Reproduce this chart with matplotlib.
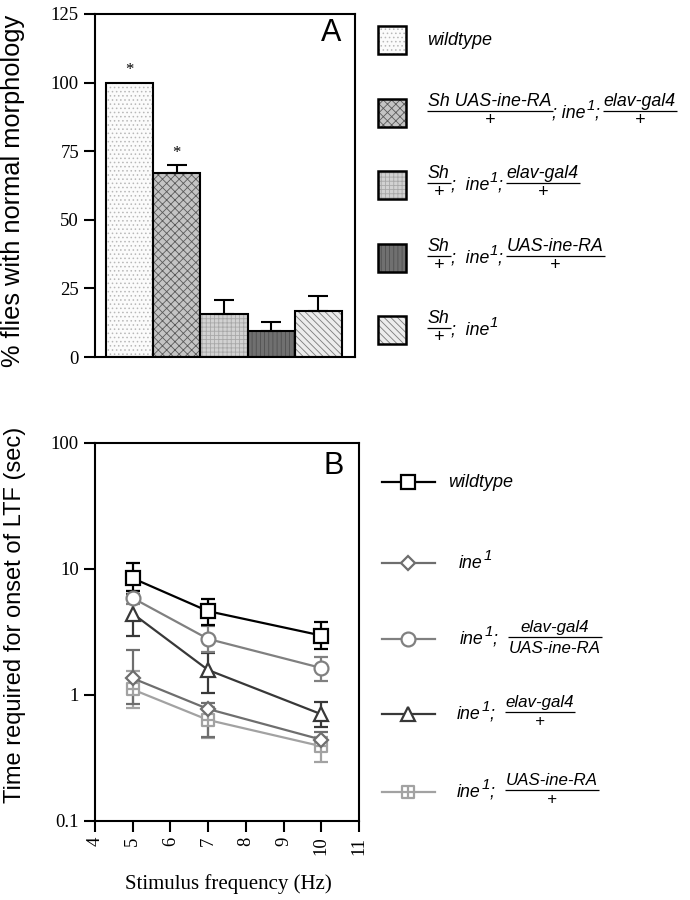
import matplotlib
matplotlib.use('Agg')
import matplotlib.pyplot as plt
import numpy as np
from matplotlib.path import Path
from matplotlib.patches import Rectangle

SANS = 'Liberation Sans'
SERIF = 'Liberation Serif'
plt.rcParams['hatch.linewidth'] = 0.6

# ---------------- Panel A data ----------------
genotypes_a = ['wildtype', 'Sh UAS-ine-RA/+; ine1; elav-gal4/+',
               'Sh/+; ine1; elav-gal4/+', 'Sh/+; ine1; UAS-ine-RA/+', 'Sh/+; ine1']
pct_normal = [100, 67.2, 15.8, 9.4, 16.6]
pct_sem = [0, 2.6, 4.9, 3.2, 5.8]
significant = [True, True, False, False, False]
yticks_a = [0, 25, 50, 75, 100, 125]

# bar textures (face, hatch, hatch colour)
bar_face = ['#fbfbfb', '#c4c4c4', '#d2d2d2', '#707070', '#ececec']
bar_hatch = ['....', 'xxxx', '++++', '||||', '\\\\\\\\\\']
bar_hcol = ['#b8b8b8', '#5a5a5a', '#a8a8a8', '#505050', '#7a7a7a']

# ---------------- Panel B data ----------------
freq_hz = [5, 7, 10]
series_names = ['wildtype', 'ine1', 'ine1; elav-gal4/UAS-ine-RA',
                'ine1; elav-gal4/+', 'ine1; UAS-ine-RA/+']
wt_mean = [8.4, 4.6, 2.95]
wt_lo = [6.6, 3.6, 2.3]
wt_hi = [11.1, 5.8, 3.8]
ine_mean = [1.35, 0.77, 0.44]
ine_lo = [0.85, 0.46, 0.37]
ine_hi = [2.25, 0.86, 0.51]
resc_mean = [5.85, 2.77, 1.63]
resc_lo = [5.2, 2.2, 1.28]
resc_hi = [6.6, 3.5, 2.0]
gal4_mean = [4.4, 1.57, 0.70]
gal4_lo = [2.95, 1.04, 0.55]
gal4_hi = [6.3, 2.15, 0.88]
uas_mean = [1.1, 0.63, 0.39]
uas_lo = [0.79, 0.45, 0.29]
uas_hi = [1.55, 0.80, 0.46]
xticks_b = [4, 5, 6, 7, 8, 9, 10, 11]
yticks_b = [0.1, 1, 10, 100]
ytick_labels_b = ['0.1', '1', '10', '100']

sq_plus = Path([(-1, -1), (1, -1), (1, 1), (-1, 1), (-1, -1), (0, -1), (0, 1), (-1, 0), (1, 0)],
               [Path.MOVETO, Path.LINETO, Path.LINETO, Path.LINETO, Path.CLOSEPOLY,
                Path.MOVETO, Path.LINETO, Path.MOVETO, Path.LINETO])
series_style = [
    dict(color='#000000', marker='s', ms=10),
    dict(color='#6e6e6e', marker='D', ms=7.5),
    dict(color='#808080', marker='o', ms=10),
    dict(color='#383838', marker='^', ms=10),
    dict(color='#a2a2a2', marker=sq_plus, ms=9),
]
series_data = [(wt_mean, wt_lo, wt_hi), (ine_mean, ine_lo, ine_hi),
               (resc_mean, resc_lo, resc_hi), (gal4_mean, gal4_lo, gal4_hi),
               (uas_mean, uas_lo, uas_hi)]

W, H = 690, 900
fig = plt.figure(figsize=(W / 100, H / 100), dpi=100)


def px_axes(l, t, r, b):
    return fig.add_axes([l / W, 1 - b / H, (r - l) / W, (b - t) / H])


def style_axes(ax):
    for s in ax.spines.values():
        s.set_linewidth(1.5)
    ax.tick_params(direction='out', length=8, width=1.5, labelsize=13.5,
                   right=False, top=False)
    for lab in ax.get_xticklabels() + ax.get_yticklabels():
        lab.set_fontfamily(SERIF)


# ---------------- Panel A ----------------
axA = px_axes(95, 14, 355, 357)
pos = np.arange(len(pct_normal))
for i in pos:
    axA.bar(i, pct_normal[i], width=1.0, color=bar_face[i], hatch=bar_hatch[i],
            edgecolor=bar_hcol[i], linewidth=0)
axA.bar(pos, pct_normal, width=1.0, fill=False, edgecolor='black', linewidth=1.5)
err_idx = [i for i in pos if pct_sem[i] > 0]
axA.errorbar([pos[i] for i in err_idx], [pct_normal[i] for i in err_idx],
             yerr=[[0] * len(err_idx), [pct_sem[i] for i in err_idx]],
             fmt='none', ecolor='black', elinewidth=1.5, capsize=7, capthick=1.5)
for i in pos:
    if significant[i]:
        axA.text(i, pct_normal[i] + pct_sem[i] + 1.5, '*', ha='center', va='bottom',
                 fontsize=12, family=SERIF)
axA.set_xlim(-0.733, 4.775)
axA.set_ylim(0, 125)
axA.set_yticks(yticks_a)
axA.set_xticks([])
style_axes(axA)

# ---------------- Panel B ----------------
axB = px_axes(95, 442.7, 359, 820.7)
axB.set_yscale('log')
for (m, lo, hi), st in zip(series_data[::-1], series_style[::-1]):
    m = np.array(m); lo = np.array(lo); hi = np.array(hi)
    axB.errorbar(freq_hz, m, yerr=[m - lo, hi - m], color=st['color'],
                 marker=st['marker'], ms=st['ms'], mfc='white', mec=st['color'],
                 mew=1.6, lw=1.6, elinewidth=1.6, capsize=5, capthick=1.6)
axB.set_xlim(4, 11)
axB.set_ylim(0.1, 100)
axB.set_xticks(xticks_b)
axB.set_xticklabels([str(v) for v in xticks_b], rotation=90)
axB.set_yticks(yticks_b)
axB.set_yticklabels(ytick_labels_b)
axB.yaxis.set_minor_locator(matplotlib.ticker.NullLocator())
style_axes(axB)

# ---------------- Overlay for labels / legends ----------------
ov = fig.add_axes([0, 0, 1, 1])
ov.set_xlim(0, W)
ov.set_ylim(H, 0)
ov.axis('off')
ov.set_autoscale_on(False)

fig.text(13 / W, 1 - 191 / H, '% flies with normal morphology', rotation=90,
         ha='center', va='center', family=SANS, fontsize=18.3)
fig.text(15 / W, 1 - 615 / H, 'Time required for onset of LTF (sec)', rotation=90,
         ha='center', va='center', family=SANS, fontsize=17)
fig.text(228 / W, 1 - 884 / H, 'Stimulus frequency (Hz)', ha='center', va='center',
         family=SERIF, fontsize=15)
ov.text(331, 33, 'A', ha='center', va='center', family=SANS, fontsize=22)
ov.text(334, 466, 'B', ha='center', va='center', family=SANS, fontsize=22)

renderer = fig.canvas.get_renderer()


def txt(x, y, s, size, **kw):
    return ov.text(x, y, s, fontsize=size, family=SANS, style='italic', **kw)


def draw_expr(x, y, parts, size, fsize):
    em = size * 100 / 72.0
    fem = fsize * 100 / 72.0
    base = y + 0.27 * em
    for p in parts:
        kind = p[0]
        if kind == 'gap':
            x += p[1]
        elif kind == 't':
            t = txt(x, base, p[1], size, ha='left', va='baseline')
            x += t.get_window_extent(renderer).width
        elif kind == 'sup':
            t = txt(x + 0.5, base - 0.42 * em, p[1], size * 0.85, ha='left', va='baseline')
            x += t.get_window_extent(renderer).width + 0.5
        elif kind == 'frac':
            bar = y - 0.1 * em
            n = txt(0, bar - 0.3 * fem, p[1], fsize, ha='center', va='baseline')
            dy = 0.8 if p[2] == '+' else 0.95
            d = txt(0, bar + dy * fem, p[2], fsize, ha='center', va='baseline')
            w = max(n.get_window_extent(renderer).width, d.get_window_extent(renderer).width) + 2
            n.set_x(x + w / 2)
            d.set_x(x + w / 2)
            ov.plot([x, x + w], [bar, bar], color='black', lw=0.9, solid_capstyle='butt')
            x += w
    return x


# Legend A
legA_y = [40, 113, 185, 258, 330]
legA_parts = [
    [('t', 'wildtype')],
    [('frac', 'Sh UAS-ine-RA', '+'), ('t', '; ine'), ('sup', '1'), ('t', ';'), ('gap', 3),
     ('frac', 'elav-gal4', '+')],
    [('frac', 'Sh', '+'), ('t', ';  ine'), ('sup', '1'), ('t', ';'), ('gap', 3),
     ('frac', 'elav-gal4', '+')],
    [('frac', 'Sh', '+'), ('t', ';  ine'), ('sup', '1'), ('t', ';'), ('gap', 3),
     ('frac', 'UAS-ine-RA', '+')],
    [('frac', 'Sh', '+'), ('t', ';  ine'), ('sup', '1')],
]
for i, (yy, parts) in enumerate(zip(legA_y, legA_parts)):
    ov.add_patch(Rectangle((378, yy - 14), 28, 28, facecolor=bar_face[i], hatch=bar_hatch[i],
                           edgecolor=bar_hcol[i], linewidth=0))
    ov.add_patch(Rectangle((378, yy - 14), 28, 28, fill=False, edgecolor='black', linewidth=1.8))
    if i == 0:
        draw_expr(427, yy, parts, 13, 13)
    else:
        draw_expr(427, yy, parts, 12.8, 12.8)

# Legend B
legB_y = [482, 563, 639, 714, 792]
legB_x = [448, 459, 460, 457, 457]
legB_parts = [
    [('t', 'wildtype')],
    [('t', 'ine'), ('sup', '1')],
    [('t', 'ine'), ('sup', '1'), ('t', ';'), ('gap', 10), ('frac', 'elav-gal4', 'UAS-ine-RA')],
    [('t', 'ine'), ('sup', '1'), ('t', ';'), ('gap', 10), ('frac', 'elav-gal4', '+')],
    [('t', 'ine'), ('sup', '1'), ('t', ';'), ('gap', 10), ('frac', 'UAS-ine-RA', '+')],
]
for yy, xx, parts, st in zip(legB_y, legB_x, legB_parts, series_style):
    ov.plot([382, 408, 435], [yy, yy, yy], color=st['color'], lw=1.6,
            marker=st['marker'], ms=st['ms'], mfc='white', mec=st['color'], mew=1.6,
            markevery=[1])
    draw_expr(xx, yy, parts, 13 if parts[0][1] == 'wildtype' else 12.8, 12.2)

fig.savefig('out.png', dpi=100)
